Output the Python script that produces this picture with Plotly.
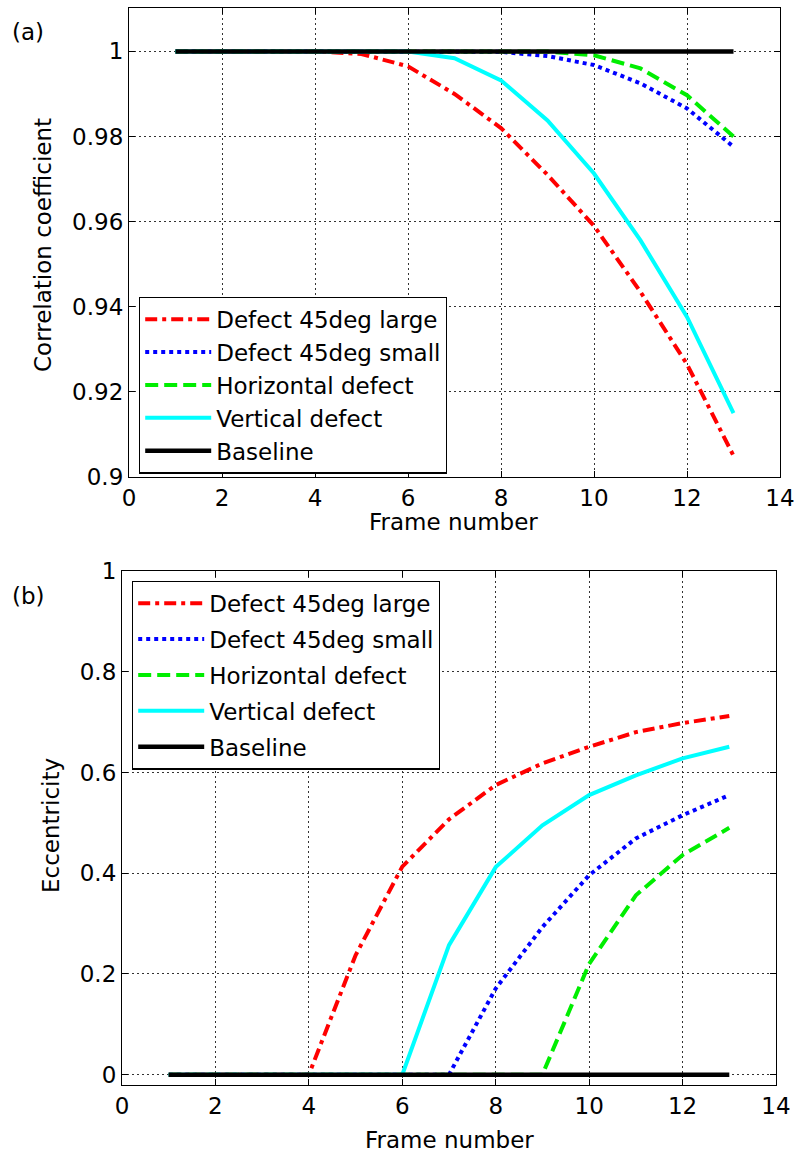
import plotly.graph_objects as go

frames = list(range(1, 14))
series_names = ["Defect 45deg large", "Defect 45deg small", "Horizontal defect", "Vertical defect", "Baseline"]

# (a) correlation coefficient
corr_large = [1.0, 1.0, 1.0, 0.99998, 0.9994, 0.9965, 0.990, 0.982, 0.971, 0.959, 0.9435, 0.9265, 0.905]
corr_small = [1.0, 1.0, 1.0, 1.0, 1.0, 1.0, 1.0, 0.9999, 0.9989, 0.9968, 0.9925, 0.9866, 0.9776]
corr_horiz = [1.0, 1.0, 1.0, 1.0, 1.0, 1.0, 1.0, 1.0, 0.99995, 0.9991, 0.996, 0.9897, 0.980]
corr_vert = [1.0, 1.0, 1.0, 1.0, 1.0, 1.0, 0.9984, 0.9932, 0.9838, 0.9713, 0.9556, 0.9376, 0.915]
corr_base = [1.0] * 13

# (b) eccentricity
ecc_large = [0, 0, 0, 0, 0.237, 0.413, 0.507, 0.575, 0.618, 0.651, 0.680, 0.698, 0.712]
ecc_small = [0, 0, 0, 0, 0, 0, 0, 0.171, 0.293, 0.396, 0.469, 0.515, 0.555]
ecc_horiz = [0, 0, 0, 0, 0, 0, 0, 0, 0, 0.220, 0.356, 0.436, 0.490]
ecc_vert = [0, 0, 0, 0, 0, 0, 0.257, 0.412, 0.495, 0.555, 0.594, 0.628, 0.651]
ecc_base = [0] * 13

x_ticks = [0, 2, 4, 6, 8, 10, 12, 14]
corr_ticks = [0.9, 0.92, 0.94, 0.96, 0.98, 1.0]
corr_ticktext = ["0.9", "0.92", "0.94", "0.96", "0.98", "1"]
ecc_ticks = [0, 0.2, 0.4, 0.6, 0.8, 1.0]
ecc_ticktext = ["0", "0.2", "0.4", "0.6", "0.8", "1"]

styles = [
    dict(color="#ff0000", width=4, dash="12px,5px,4px,5px"),
    dict(color="#0000ff", width=4, dash="4px,4px"),
    dict(color="#00ee00", width=4, dash="13px,6px"),
    dict(color="#00ffff", width=4, dash="solid"),
    dict(color="#000000", width=4.5, dash="solid"),
]

FONT = "DejaVu Sans, sans-serif"
FS = 23
fig = go.Figure()

for name, ys, st in zip(series_names, [corr_large, corr_small, corr_horiz, corr_vert, corr_base], styles):
    fig.add_trace(go.Scatter(x=frames, y=ys, mode="lines", name=name, line=st,
                             xaxis="x", yaxis="y", legend="legend"))
for i, (name, ys, st) in enumerate(zip(series_names, [ecc_large, ecc_small, ecc_horiz, ecc_vert, ecc_base], styles)):
    fig.add_trace(go.Scatter(x=frames, y=ys, mode="lines", name=name, line=st,
                             legendgroup="b%d" % i,
                             xaxis="x2", yaxis="y2", legend="legend2"))

W, H = 797, 1153
def px(x):
    return x / W
def py(y):
    return 1 - y / H

axis_common = dict(
    showline=True, linecolor="black", linewidth=1.2, mirror="ticks",
    ticks="inside", ticklen=6, tickcolor="black", tickwidth=1,
    showgrid=True, gridcolor="#333333", gridwidth=1, griddash="2px,3px",
    zeroline=False, automargin=False,
    tickfont=dict(family=FONT, size=FS, color="black"),
)

fig.update_layout(
    width=W, height=H,
    margin=dict(l=0, r=0, t=0, b=0, autoexpand=False),
    paper_bgcolor="white", plot_bgcolor="white",
    font=dict(family=FONT, size=FS, color="black"),
    xaxis=dict(domain=[px(129), px(780)], range=[0, 14], tickvals=x_ticks, anchor="y", **axis_common),
    yaxis=dict(domain=[py(477), py(8)], range=[0.9, 1.0102], tickvals=corr_ticks, ticktext=corr_ticktext,
               anchor="x", **axis_common),
    xaxis2=dict(domain=[px(122), px(776)], range=[0, 14], tickvals=x_ticks, anchor="y2", **axis_common),
    yaxis2=dict(domain=[py(1085), py(571)], range=[-0.0206, 1.0], tickvals=ecc_ticks, ticktext=ecc_ticktext,
                anchor="x2", **axis_common),
    legend=dict(x=px(139), y=py(385), xanchor="left", yanchor="middle", itemwidth=66,
                bgcolor="white", bordercolor="black", borderwidth=1.2,
                font=dict(family=FONT, size=FS, color="black"), tracegroupgap=0),
    legend2=dict(x=px(132), y=py(675), xanchor="left", yanchor="middle", itemwidth=66,
                 bgcolor="white", bordercolor="black", borderwidth=1.2,
                 font=dict(family=FONT, size=FS, color="black"), tracegroupgap=3),
    showlegend=True,
)

ann = dict(xref="paper", yref="paper", showarrow=False, font=dict(family=FONT, size=FS, color="black"))
fig.add_annotation(text="(a)", x=px(28), y=py(32), xanchor="center", yanchor="middle", **ann)
fig.add_annotation(text="(b)", x=px(28), y=py(596), xanchor="center", yanchor="middle", **ann)
fig.add_annotation(text="Frame number", x=px(453), y=py(522), xanchor="center", yanchor="middle", **ann)
fig.add_annotation(text="Frame number", x=px(449), y=py(1140), xanchor="center", yanchor="middle", **ann)
fig.add_annotation(text="Correlation coefficient", x=px(43), y=py(245), textangle=-90,
                   xanchor="center", yanchor="middle", **ann)
fig.add_annotation(text="Eccentricity", x=px(51), y=py(826), textangle=-90,
                   xanchor="center", yanchor="middle", **ann)

fig.write_html("out.html")
